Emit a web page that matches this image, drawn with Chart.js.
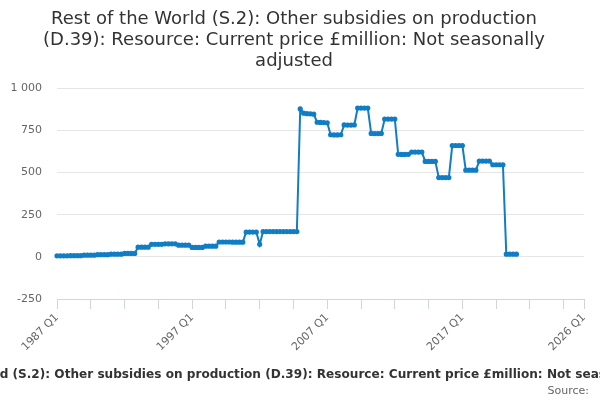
<!DOCTYPE html>
<html>
<head>
<meta charset="utf-8">
<script src="https://cdn.jsdelivr.net/npm/chart.js@4"></script>
<style>
  html, body { margin: 0; padding: 0; background: #fff; }
  #wrap { width: 600px; height: 400px; }
</style>
</head>
<body>
<div id="wrap"><canvas id="canvas"></canvas></div>
<script>
// quarters from 1987 Q1 to 2026 Q1 (axis runs past the last value)
const firstYear = 1987;
const lastYear = 2026;
const quarters = [];
for (let y = firstYear; y <= lastYear; y++) {
  for (let q = 1; q <= 4; q++) {
    if (y === lastYear && q > 1) break;
    quarters.push(y + " Q" + q);
  }
}

// £million, 1987 Q1 .. 2021 Q1
const subsidies = [
  6, 6, 6, 6, 7, 7, 7, 7,            // 1987-1988
  10, 10, 10, 10,                    // 1989
  13, 13, 13, 13,                    // 1990
  16, 16, 16, 16,                    // 1991
  20, 20, 20, 20,                    // 1992
  57, 57, 57, 57,                    // 1993
  74, 74, 74, 74,                    // 1994
  77, 77, 77, 77,                    // 1995
  69, 69, 69, 69,                    // 1996
  56, 56, 56, 56,                    // 1997
  63, 63, 63, 63,                    // 1998
  88, 88, 88, 88,                    // 1999
  87, 87, 87, 87,                    // 2000
  147, 147, 147, 147,                // 2001
  74, 150, 150, 150,                 // 2002
  150, 150, 150, 150,                // 2003
  150, 150, 150, 150,                // 2004
  877, 852, 849, 848,                // 2005
  846, 798, 797, 796,                // 2006
  795, 724, 723, 723,                // 2007
  724, 782, 781, 781,                // 2008
  782, 882, 882, 882,                // 2009
  882, 732, 731, 731,                // 2010
  732, 817, 817, 817,                // 2011
  817, 608, 607, 607,                // 2012
  608, 621, 621, 621,                // 2013
  621, 566, 566, 566,                // 2014
  566, 470, 470, 470,                // 2015
  470, 660, 660, 660,                // 2016
  660, 514, 514, 514,                // 2017
  514, 568, 568, 568,                // 2018
  568, 546, 546, 546,                // 2019
  546, 16, 16, 16,                   // 2020
  16                                 // 2021 Q1
];

const yTicks = [-250, 0, 250, 500, 750, 1000];
const labelEvery = 40;   // one label every 10 years
const tickEvery = 10;    // tick mark every 2.5 years

const seriesName = "Rest of the World (S.2): Other subsidies on production (D.39): Resource: Current price £million: Not seasonally adjusted";
const sourceText = "Source:";

Chart.defaults.font.family = "'DejaVu Sans', sans-serif";
Chart.defaults.color = "#666666";

const lastIndex = quarters.length - 1;

// series name under the axis and the source line, drawn unsqueezed
const footerText = {
  id: "footerText",
  afterDraw(chart) {
    const c = chart.ctx;
    c.save();
    c.textBaseline = "middle";
    c.fillStyle = "#333333";
    c.font = "bold 12.1px 'DejaVu Sans', sans-serif";
    c.textAlign = "center";
    c.fillText(seriesName, chart.width / 2, 375);
    c.fillStyle = "#666666";
    c.font = "11px 'DejaVu Sans', sans-serif";
    c.textAlign = "right";
    c.fillText(sourceText, 589, 391);
    c.restore();
  },
};

const ctx = document.getElementById("canvas").getContext("2d");
const myChart = new Chart(ctx, {
  type: "line",
  data: {
    labels: quarters,
    datasets: [
      {
        label: seriesName,
        data: subsidies,
        borderColor: "#107dc5",
        backgroundColor: "#107dc5",
        borderWidth: 2,
        pointRadius: 1.6,
        pointHoverRadius: 3,
        tension: 0,
      },
    ],
  },
  plugins: [footerText],
  options: {
    responsive: true,
    maintainAspectRatio: false,
    animation: false,
    layout: { padding: { left: 4, right: 16, top: 7, bottom: 41 } },
    plugins: {
      legend: { display: false },
      tooltip: { enabled: false },
      title: {
        display: true,
        text: [
          "Rest of the World (S.2): Other subsidies on production",
          "(D.39): Resource: Current price £million: Not seasonally",
          "adjusted",
        ],
        color: "#333333",
        font: { size: 18, weight: "normal", lineHeight: 1.17 },
        padding: { top: 2, bottom: 16 },
      },
    },
    scales: {
      x: {
        type: "category",
        offset: false,
        afterFit: (axis) => { axis.height = 60; },
        grid: {
          drawOnChartArea: false,
          drawTicks: true,
          tickLength: 10,
          tickColor: (c) =>
            c.index % tickEvery === 0 || c.index === lastIndex ? "#ccd6eb" : "rgba(0,0,0,0)",
        },
        border: { display: true, color: "#ccd6eb" },
        ticks: {
          autoSkip: false,
          minRotation: 45,
          maxRotation: 45,
          color: "#666666",
          font: { size: 11 },
          padding: 2,
          callback: function (value, index) {
            if (index % labelEvery === 0 || index === lastIndex) return quarters[index];
            return "";
          },
        },
      },
      y: {
        min: yTicks[0],
        max: yTicks[yTicks.length - 1],
        afterBuildTicks: (axis) => {
          axis.ticks = yTicks.map((v) => ({ value: v }));
        },
        afterFit: (axis) => { axis.width = 53; },
        grid: { color: "#e6e6e6", drawTicks: false },
        border: { display: false },
        ticks: {
          color: "#666666",
          font: { size: 11 },
          padding: 15,
          callback: (v) => String(v).replace(/\B(?=(\d{3})+(?!\d))/g, " "),
        },
      },
    },
  },
});
</script>
</body>
</html>
